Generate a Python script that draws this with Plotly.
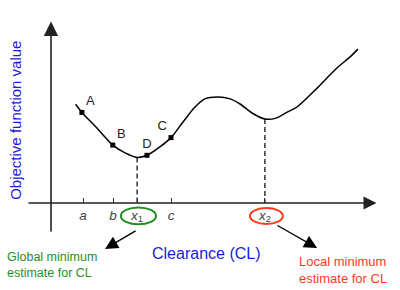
import plotly.graph_objects as go

# Objective function curve (clearance vs objective value, arbitrary units)
clearance = [0.82, 1.03, 1.53, 2.06, 2.47, 2.87, 3.20, 3.63, 4.00, 4.40, 4.80,
             5.13, 5.57, 5.97, 6.30, 6.70, 7.13, 7.50, 7.87, 8.20, 8.87, 9.53, 9.97, 10.23]
objective = [3.29, 3.02, 2.50, 1.93, 1.67, 1.52, 1.59, 1.87, 2.18, 2.70, 3.20,
             3.47, 3.53, 3.47, 3.30, 3.00, 2.80, 2.83, 3.03, 3.20, 3.83, 4.50, 4.87, 5.13]

# Labelled trial points
point_names = ["A", "B", "D", "C"]
point_x = [1.03, 2.06, 3.20, 4.00]
point_y = [3.02, 1.93, 1.59, 2.18]

# Axis tick positions and labels
tick_vals = [1.07, 2.07, 2.87, 4.00, 7.13]
tick_text = ["<i>a</i>", "<i>b</i>", "<i>x</i><sub>1</sub>", "<i>c</i>", "<i>x</i><sub>2</sub>"]

# Minima
x1, fx1 = 2.87, 1.52
x2, fx2 = 7.13, 2.80

FONT = "Arial, Liberation Sans, sans-serif"
GREEN = "#1f8f1f"
RED = "#ff3a1a"
BLUE = "#1a1ae0"

fig = go.Figure()


def arrow(x0, y0, x1_, y1_, color, width, size):
    fig.add_annotation(x=x1_, y=y1_, ax=x0, ay=y0, xref="x", yref="y", axref="x", ayref="y",
                       text="", showarrow=True, arrowhead=2, arrowsize=size,
                       arrowwidth=width, arrowcolor=color)


# axes with arrowheads
arrow(-0.8, 0, 10.85, 0, "#222", 1.3, 2.0)
arrow(0, -1.0, 0, 6.05, "#222", 1.6, 1.8)

# dashed drop lines at minima
fig.add_trace(go.Scatter(x=[x1, x1, None, x2, x2], y=[fx1, 0, None, fx2, 0],
                         mode="lines", line=dict(color="black", width=1.2, dash="5px,3px"),
                         hoverinfo="skip", showlegend=False))

fig.add_trace(go.Scatter(x=clearance, y=objective, mode="lines",
                         line=dict(color="black", width=1.5, shape="spline", smoothing=0.8),
                         hoverinfo="skip", showlegend=False))

fig.add_trace(go.Scatter(x=point_x, y=point_y, mode="markers+text", text=point_names,
                         textposition=["top right", "top right", "top center", "top left"],
                         textfont=dict(family=FONT, size=13, color="#222"),
                         marker=dict(symbol="square", size=5, color="black"),
                         hoverinfo="skip", showlegend=False))

# ellipses around minima labels
fig.add_shape(type="circle", xref="x", yref="y", x0=2.33, x1=3.50, y0=-0.15, y1=-0.71,
              line=dict(color=GREEN, width=2))
fig.add_shape(type="circle", xref="x", yref="y", x0=6.63, x1=7.73, y0=-0.17, y1=-0.70,
              line=dict(color=RED, width=2))

# pointer arrows
arrow(2.87, -0.90, 1.80, -1.53, "black", 1.3, 2.0)
arrow(7.50, -0.72, 8.87, -1.50, "black", 1.3, 2.0)

# texts
fig.add_annotation(x=-1.55, y=-2.07, xref="x", yref="y", xanchor="left", align="left",
                   text="Global minimum<br>estimate for CL", showarrow=False,
                   font=dict(family=FONT, size=12.5, color=GREEN))
fig.add_annotation(x=8.2, y=-2.23, xref="x", yref="y", xanchor="left", align="left",
                   text="Local minimum<br>estimate for CL", showarrow=False,
                   font=dict(family=FONT, size=13, color=RED))
fig.add_annotation(x=5.17, y=-1.67, xref="x", yref="y",
                   text="Clearance (CL)", showarrow=False,
                   font=dict(family=FONT, size=16, color=BLUE))
fig.add_annotation(x=-1.17, y=2.77, xref="x", yref="y", textangle=-90,
                   text="Objective function value", showarrow=False,
                   font=dict(family=FONT, size=15, color=BLUE))

fig.update_layout(
    width=400, height=290, margin=dict(l=0, r=0, t=0, b=0),
    paper_bgcolor="white", plot_bgcolor="white",
    xaxis=dict(range=[-1.7, 11.633], showgrid=False, zeroline=False, showline=False,
               anchor="free", position=0.3, tickmode="array", tickvals=tick_vals,
               ticktext=tick_text, ticks="inside", ticklen=5, tickwidth=1.2, tickcolor="#333",
               ticklabelstandoff=2,
               tickfont=dict(family=FONT, size=13.5, color="#444")),
    yaxis=dict(range=[-2.9, 6.767], visible=False),
)

fig.write_html("out.html")
